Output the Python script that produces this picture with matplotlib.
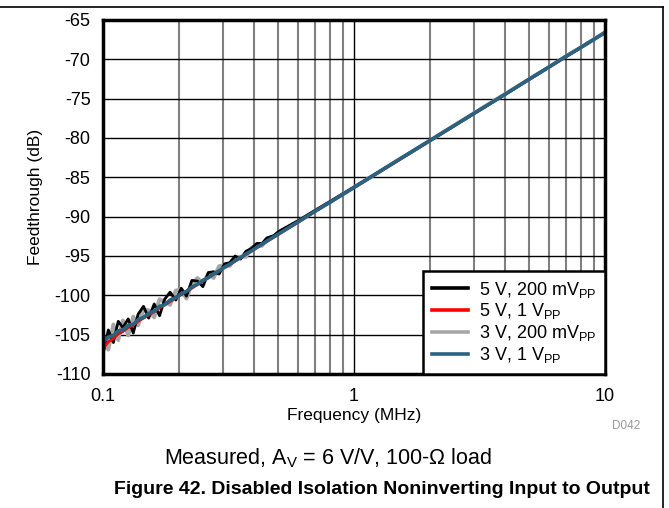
import matplotlib
matplotlib.use("Agg")
import matplotlib.pyplot as plt
from matplotlib.ticker import FixedLocator, NullFormatter, LogLocator
from matplotlib.lines import Line2D

plt.rcParams['font.family'] = ['Liberation Sans', 'DejaVu Sans']
plt.rcParams['mathtext.fontset'] = 'custom'
plt.rcParams['mathtext.rm'] = 'Liberation Sans'
plt.rcParams['mathtext.it'] = 'Liberation Sans'
plt.rcParams['axes.unicode_minus'] = False

freq_mhz = [0.100, 0.105, 0.110, 0.115, 0.120, 0.126, 0.132, 0.138, 0.145, 0.152,
            0.160, 0.168, 0.176, 0.185, 0.195, 0.205, 0.215, 0.226, 0.238, 0.250,
            0.263, 0.276, 0.290, 0.305, 0.320, 0.336, 0.353, 0.371, 0.390, 0.41,
            0.43, 0.45, 0.48, 0.5, 0.6, 0.7, 0.8, 1.0, 1.5, 2, 3, 4, 5, 6, 7, 8, 10]

v5_200mv = [-107.5, -104.4, -106.0, -103.3, -104.1, -103.0, -104.8, -102.4, -101.4, -102.9,
            -101.1, -102.6, -100.5, -99.6, -100.6, -99.1, -100.1, -98.1, -98.2, -98.9,
            -97.1, -97.0, -97.3, -96.0, -95.85, -95.0, -95.4, -94.4, -94.05, -93.4,
            -93.4, -92.7, -92.4, -91.9, -90.5, -89.2, -88.1, -86.25, -82.8, -80.35,
            -76.9, -74.45, -72.5, -70.95, -69.65, -68.5, -66.6]

v5_1v = [-106.8, -105.9, -105.5, -104.9, -104.6, -104.1, -103.8, -103.3, -102.9, -102.5,
         -102.1, -101.6, -101.2, -100.8, -100.35, -99.9, -99.5, -99.1, -98.6, -98.2,
         -97.75, -97.35, -96.9, -96.5, -96.1, -95.65, -95.2, -94.8, -94.4, -93.95,
         -93.55, -93.15, -92.6, -92.25, -90.7, -89.35, -88.2, -86.3, -82.85, -80.4,
         -76.9, -74.45, -72.55, -70.95, -69.65, -68.5, -66.6]

v3_200mv = [-105.0, -106.9, -103.7, -105.7, -103.2, -105.1, -102.7, -103.8, -101.8, -101.9,
            -102.8, -100.5, -100.85, -101.2, -99.4, -99.25, -100.4, -98.6, -97.8, -98.5,
            -97.2, -97.8, -96.3, -96.15, -96.25, -95.25, -95.1, -95.1, -93.95, -93.7,
            -93.7, -92.8, -92.5, -92.0, -90.55, -89.25, -88.15, -86.25, -82.8, -80.35,
            -76.85, -74.4, -72.5, -70.95, -69.6, -68.5, -66.55]

v3_1v = [-106.0, -105.3, -105.1, -104.5, -104.4, -103.8, -103.7, -103.1, -102.8, -102.3,
         -102.0, -101.4, -101.2, -100.6, -100.3, -99.8, -99.5, -98.95, -98.6, -98.1,
         -97.75, -97.25, -96.9, -96.4, -96.05, -95.6, -95.2, -94.75, -94.35, -93.9,
         -93.5, -93.1, -92.55, -92.2, -90.65, -89.3, -88.2, -86.3, -82.8, -80.35,
         -76.9, -74.45, -72.5, -70.95, -69.6, -68.5, -66.6]

series_labels = [r'5 V, 200 mV$_{\mathrm{PP}}$', r'5 V, 1 V$_{\mathrm{PP}}$',
                 r'3 V, 200 mV$_{\mathrm{PP}}$', r'3 V, 1 V$_{\mathrm{PP}}$']
series_colors = ['#000000', '#ff0000', '#a6a6a6', '#2a6282']
y_ticks = [-110, -105, -100, -95, -90, -85, -80, -75, -70, -65]
x_ticks = [0.1, 1, 10]
x_tick_labels = ['0.1', '1', '10']

W, H = 669, 508
fig = plt.figure(figsize=(W / 100, H / 100), dpi=100)
ax = fig.add_axes([103 / W, 1 - 374 / H, (605 - 103) / W, (374 - 20) / H])

ax.set_xscale('log')
ax.set_xlim(0.1, 10)
ax.set_ylim(-110, -65)

# grid
for d in [0.1, 1]:
    for m in range(2, 10):
        ax.axvline(d * m, color='#808080', lw=1.5, zorder=1)
ax.axvline(1, color='black', lw=1.0, zorder=1)
for yv in y_ticks[1:-1]:
    ax.axhline(yv, color='black', lw=1.0, zorder=1)

series = [v5_200mv, v5_1v, v3_200mv, v3_1v]
widths = [2.0, 2.0, 2.8, 2.6]
order = [2, 0, 1, 3]
for i in order:
    ax.plot(freq_mhz, series[i], color=series_colors[i], lw=widths[i], zorder=3 + order.index(i))

ax.xaxis.set_major_locator(FixedLocator(x_ticks))
ax.set_xticklabels(x_tick_labels)
ax.xaxis.set_minor_locator(LogLocator(base=10, subs=range(2, 10)))
ax.xaxis.set_minor_formatter(NullFormatter())
ax.set_yticks(y_ticks)
ax.tick_params(axis='both', which='both', length=0, labelsize=13)
ax.tick_params(axis='y', pad=9)
ax.tick_params(axis='x', pad=10)

for s in ax.spines.values():
    s.set_linewidth(2.5)
    s.set_zorder(10)

ax.set_xlabel('Frequency (MHz)', fontsize=12.5, labelpad=2)
ax.set_ylabel('Feedthrough (dB)', fontsize=12.5, labelpad=8)

handles = [Line2D([0], [0], color=series_colors[i], lw=2.6) for i in range(4)]
leg = ax.legend(handles, series_labels, loc='lower right', fontsize=13,
                frameon=True, fancybox=False, framealpha=1, edgecolor='black',
                borderpad=0.5, labelspacing=0.1, handlelength=2.0, handletextpad=0.6,
                borderaxespad=0.0)
leg.get_frame().set_linewidth(1.8)
leg.set_zorder(20)

fig.text(612 / W, 1 - 426 / H, 'D042', color='#999999', fontsize=8.5, ha='left', va='center')
fig.text(328 / W, 1 - 458 / H, r'Measured, A$_{\mathrm{V}}$ = 6 V/V, 100-$\Omega$ load',
         fontsize=15.5, ha='center', va='center')
fig.text(382 / W, 1 - 490 / H, 'Figure 42. Disabled Isolation Noninverting Input to Output',
         fontsize=14.0, fontweight='bold', ha='center', va='center',
         family=['Liberation Sans Narrow', 'Liberation Sans'])

# outer frame lines
fig.add_artist(Line2D([0, 663 / W], [1 - 7 / H, 1 - 7 / H], color='black', lw=1.2,
                      transform=fig.transFigure))
fig.add_artist(Line2D([663 / W, 663 / W], [1 - 7 / H, 0], color='black', lw=1.2,
                      transform=fig.transFigure))

fig.savefig('out.png', dpi=100)
